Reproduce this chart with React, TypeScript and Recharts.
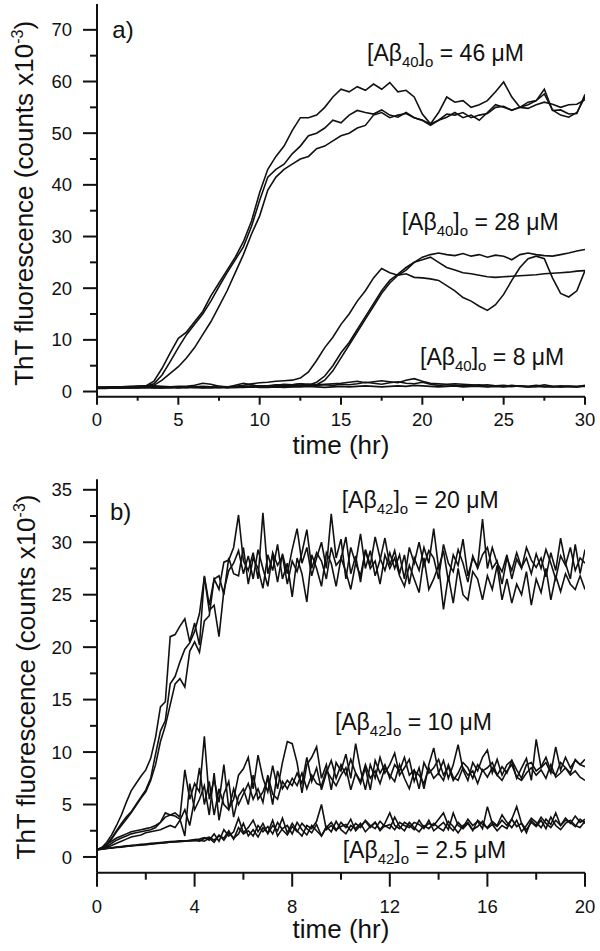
import React from 'react';
import { LineChart, Line, XAxis, YAxis, ReferenceDot } from 'recharts';

// ---------------- Panel a) : Aβ40, sampled every 0.5 hr (0 .. 30 hr) ----------------
const TIME_A = Array.from({ length: 61 }, (_, i) => i * 0.5);

const AB40_46_RUN1 = [0.8,0.8,0.9,0.9,1.0,1.0,1.1,2.0,4.5,7.5, 10.3,11.5,13.5,15.5,18.5,21.0,23.5,26.0,29.0,33.0, 38.5,43.0,45.5,47.5,50.5,53.0,53.0,53.5,55.0,57.0, 58.5,58.0,59.0,58.3,59.5,58.5,59.8,58.0,58.3,57.0, 53.7,51.8,54.0,57.0,56.0,56.3,55.0,55.5,56.3,58.0, 59.9,57.0,55.0,55.5,56.3,58.5,54.4,54.5,53.7,53.8, 57.5];
const AB40_46_RUN2 = [0.8,0.8,0.8,0.9,0.9,1.0,1.0,1.5,3.2,5.8, 8.5,11.0,13.0,15.0,17.5,20.3,23.0,25.5,28.0,32.0, 37.0,41.5,43.0,44.0,46.0,47.5,49.5,50.0,51.0,52.5, 52.0,53.5,54.4,54.0,53.7,54.5,53.5,53.1,54.0,53.0, 52.5,51.5,52.5,53.1,54.0,53.0,53.5,52.5,54.0,55.5, 55.0,54.5,55.0,54.8,55.5,56.0,55.6,55.0,55.5,55.6, 56.5];
const AB40_46_RUN3 = [0.8,0.8,0.8,0.8,0.9,0.9,1.0,1.2,2.2,3.5, 4.8,6.5,8.5,11.0,13.5,16.5,19.5,23.0,26.5,30.5, 34.0,39.0,41.5,43.0,44.0,45.0,45.5,47.0,47.5,48.5, 49.5,50.0,51.0,51.5,53.5,54.0,53.0,53.5,53.8,53.0, 52.5,51.8,52.5,53.7,53.5,54.0,53.0,53.5,53.8,55.0, 55.2,54.4,55.0,56.0,56.3,57.6,54.5,53.5,53.1,54.0, 57.0];

const AB40_28_RUN1 = [0.7,0.7,0.8,0.8,0.8,0.8,0.8,0.8,0.8,0.9, 0.8,0.8,0.9,1.0,0.9,0.8,0.9,1.0,1.2,1.5, 1.7,1.8,2.0,2.1,2.2,2.6,3.8,6.0,8.5,10.5, 13.0,15.0,17.5,19.5,22.0,23.8,23.0,22.5,22.8,22.1, 22.0,21.8,21.5,20.5,19.5,18.2,17.5,16.5,15.7,16.8, 18.8,21.5,24.0,25.7,26.2,25.7,22.0,19.0,18.3,19.5, 23.4];
const AB40_28_RUN2 = [0.7,0.7,0.7,0.8,0.8,0.8,0.8,0.9,0.8,0.8, 0.8,0.9,0.8,0.8,0.9,0.8,0.9,0.9,1.0,1.0, 1.1,1.0,1.1,1.2,1.3,1.5,1.2,1.8,3.0,5.0, 7.5,9.5,12.0,14.5,17.0,19.5,21.5,22.7,24.0,25.0, 25.5,26.0,25.0,24.0,23.5,23.0,22.8,22.5,22.2,22.1, 22.2,22.3,22.4,22.5,22.6,22.8,22.9,23.0,23.1,23.3, 23.4];
const AB40_28_RUN3 = [0.7,0.7,0.7,0.7,0.8,0.8,0.8,0.8,0.8,0.8, 0.9,0.8,0.8,0.9,0.9,1.0,0.9,0.9,0.9,1.0, 1.0,1.0,1.1,1.0,1.1,1.2,1.4,1.3,2.2,4.0, 6.5,9.0,11.5,14.0,16.5,19.0,21.0,22.5,23.5,25.0, 26.0,26.5,26.8,26.5,26.3,26.7,26.2,26.5,26.0,26.4, 26.2,25.5,26.5,26.8,26.5,26.3,26.2,26.5,26.8,27.2, 27.5];

const AB40_8_RUN1 = [0.7,0.8,0.8,0.9,0.8,1.0,1.0,1.1,1.0,0.9, 1.0,1.0,1.2,1.6,1.4,1.0,0.8,1.2,1.6,1.3, 1.0,1.1,1.3,1.2,1.0,1.1,1.2,1.3,1.4,1.5, 1.6,1.8,2.0,1.7,1.9,2.1,1.9,1.7,2.2,2.5, 2.0,1.6,1.5,1.4,1.5,1.4,1.3,1.2,1.3,1.1, 1.2,1.0,1.1,1.0,1.2,1.0,0.9,1.1,1.0,0.9, 1.1];
const AB40_8_RUN2 = [0.7,0.7,0.7,0.8,0.8,0.8,0.9,0.8,0.8,0.8, 0.9,0.8,0.9,0.8,0.7,0.8,0.9,0.8,0.9,1.0, 1.1,1.0,1.2,1.4,1.3,1.5,1.4,1.2,1.3,1.2, 1.4,1.3,1.5,1.8,1.6,1.4,1.7,1.9,1.6,1.5, 1.8,1.4,1.2,1.3,1.2,1.1,1.2,1.3,1.0,1.1, 1.0,1.2,1.0,0.9,1.0,1.3,1.0,0.9,1.0,0.9, 1.2];
const AB40_8_RUN3 = [0.6,0.6,0.7,0.7,0.7,0.7,0.8,0.7,0.7,0.8, 0.7,0.8,0.8,0.7,0.8,0.8,0.7,0.8,0.8,0.9, 0.8,0.8,0.9,0.8,0.9,0.9,1.0,0.9,0.8,0.9, 1.0,0.9,1.0,1.1,1.0,0.9,1.0,1.1,1.0,1.2, 1.1,1.0,0.9,1.0,1.1,0.9,1.0,1.0,0.9,1.0, 0.9,1.0,1.1,0.9,1.0,0.9,1.0,0.9,1.0,1.0, 1.0];

// ---------------- Panel b) : Aβ42, sampled every 0.2 hr (0 .. 20 hr) ----------------
const TIME_B = Array.from({ length: 101 }, (_, i) => (i * 2) / 10);

const AB42_20_RUN1 = [0.7,0.9,1.4,2.1,3.0,4.0,5.2,6.3,7.0,7.7, 8.3,9.4,11.4,14.3,14.8,21.0,21.2,22.0,22.7,20.5, 22.3,20.2,26.8,24.0,26.5,25.5,28.1,28.3,29.5,32.6, 28.2,27.3,29.0,26.5,32.8,27.0,28.8,26.2,28.9,27.0, 29.3,31.3,28.0,29.5,26.8,28.5,30.0,27.5,32.7,28.5, 30.3,26.5,29.5,28.0,30.8,27.5,29.2,26.8,28.3,30.4, 27.8,29.2,27.0,28.8,26.0,28.5,27.3,29.5,28.0,31.3, 27.5,29.2,26.3,28.8,27.8,30.3,26.8,28.5,27.7,32.2, 27.5,29.5,28.0,27.2,28.8,26.5,28.4,27.5,29.5,28.3, 27.6,28.5,26.7,29.0,27.3,30.4,28.0,26.5,29.8,27.0, 29.3];
const AB42_20_RUN2 = [0.7,0.8,1.2,1.8,2.5,3.2,3.8,4.3,5.0,5.7, 6.4,7.5,9.8,12.0,13.0,16.5,17.2,18.6,19.8,20.4, 21.5,23.2,26.7,23.5,24.0,21.0,25.4,27.3,28.0,29.2, 27.0,28.7,26.5,29.3,27.5,25.8,29.0,27.8,28.7,26.0, 28.2,27.2,29.0,31.2,27.5,29.0,28.2,26.5,29.5,27.8, 28.4,30.5,27.0,28.7,26.2,29.3,27.8,30.5,28.5,27.3, 29.0,27.5,28.8,26.5,29.5,28.0,30.0,27.8,29.2,28.5, 26.5,29.8,28.0,27.2,29.3,28.0,26.2,28.7,27.5,28.8, 29.5,27.5,28.2,26.0,28.5,27.3,29.0,27.6,28.5,27.0, 28.9,27.5,29.3,28.0,26.5,28.7,27.8,29.5,27.3,28.5, 28.0];
const AB42_20_RUN3 = [0.7,0.8,1.1,1.7,2.4,3.0,3.6,4.2,4.9,5.6, 6.2,7.3,8.8,11.0,12.5,14.5,16.5,17.0,16.2,19.6, 20.5,19.5,22.5,23.0,26.5,26.8,25.0,28.5,27.0,26.8, 29.5,26.0,28.5,27.5,25.6,28.8,27.3,29.8,26.5,28.0, 24.8,28.5,27.0,24.3,28.8,27.5,25.8,29.0,28.0,25.8, 28.5,27.2,25.5,28.0,26.8,29.2,27.5,28.2,26.0,28.8, 27.5,28.5,26.8,25.8,27.8,26.5,25.2,28.5,25.5,26.5, 27.8,23.6,26.8,24.2,27.5,25.0,24.5,27.2,26.5,24.5, 26.8,25.5,27.8,24.5,26.5,24.2,26.0,25.0,27.2,24.0, 26.5,25.2,27.5,24.5,26.8,25.3,27.0,26.0,25.5,26.8, 25.5];

const AB42_10_RUN1 = [0.7,0.9,1.2,1.5,1.8,2.0,2.2,2.4,2.5,2.6, 2.7,2.8,3.0,3.3,3.8,4.0,4.2,3.8,8.3,5.5, 7.0,6.2,11.5,5.5,7.4,5.2,8.8,4.6,5.5,7.8, 8.4,9.5,6.5,9.7,7.5,6.2,8.7,6.5,9.0,11.0, 10.8,9.0,6.1,8.8,9.5,10.5,7.5,8.8,6.4,9.0, 8.2,9.8,7.5,10.8,8.3,6.4,8.8,7.5,9.5,8.0, 8.8,9.9,7.8,8.5,9.3,7.2,8.5,6.5,8.8,10.4, 8.0,9.2,7.5,8.8,10.7,8.3,7.3,9.0,8.2,9.5, 10.2,8.0,9.3,7.8,8.8,9.2,7.5,8.5,9.4,7.3, 11.2,8.5,9.0,8.0,10.5,8.3,9.5,8.5,9.2,8.8, 9.3];
const AB42_10_RUN2 = [0.7,0.8,1.0,1.3,1.6,1.8,2.0,2.2,2.3,2.4, 2.5,2.6,2.8,3.3,4.2,4.0,3.9,3.6,2.0,7.0, 4.5,5.5,6.8,4.0,8.0,3.5,6.0,7.2,3.8,5.8, 6.5,5.0,7.8,5.5,6.2,7.5,5.0,8.2,6.5,7.3, 6.8,8.0,7.0,9.5,7.2,8.5,6.4,8.0,9.2,7.5, 8.8,7.8,9.3,8.0,7.0,8.5,6.4,9.2,8.0,8.8, 7.5,8.8,8.2,9.5,7.8,8.3,6.5,9.0,8.0,8.5, 9.3,7.8,8.6,7.3,8.0,9.0,8.5,7.5,8.8,8.2, 8.5,9.0,7.8,8.6,8.0,9.2,8.3,7.5,8.8,9.0, 8.2,8.6,9.5,8.2,7.8,9.0,8.5,8.0,9.3,8.8, 8.6];
const AB42_10_RUN3 = [0.7,0.8,0.9,1.1,1.3,1.5,1.7,1.9,2.0,2.1, 2.3,2.4,2.5,2.6,2.8,3.0,2.8,3.5,4.5,3.0, 5.5,8.5,5.0,7.2,4.0,6.5,5.0,4.5,6.5,5.0, 6.0,7.0,5.5,6.5,5.2,7.8,6.0,5.5,7.2,6.5, 7.5,6.8,8.0,6.5,7.8,7.0,6.8,8.3,7.5,6.8, 7.8,8.5,6.4,8.0,7.2,8.8,7.5,8.2,7.0,8.5, 7.8,7.2,8.8,7.5,6.5,8.2,7.8,7.0,8.5,7.5, 8.0,7.3,8.8,7.6,7.3,8.5,7.8,8.2,7.0,8.3, 7.6,8.5,7.8,7.3,8.2,8.8,7.6,7.3,8.0,8.5, 7.8,8.3,7.5,8.8,7.6,8.0,8.5,7.8,8.2,7.6, 7.3];

const AB42_25_RUN1 = [0.7,0.76,0.84,0.88,0.95,1.0,1.06,1.1,1.14,1.2, 1.24,1.3,1.32,1.38,1.42,1.46,1.5,1.55,1.52,1.6, 1.65,1.7,1.85,1.6,2.2,1.5,2.6,2.0,2.4,3.7, 2.3,2.8,3.5,2.4,3.2,2.2,3.0,2.5,3.7,2.3, 3.2,2.5,2.0,3.0,2.7,3.4,5.0,2.6,3.0,2.5, 3.3,2.8,3.6,2.5,3.0,3.4,2.8,3.3,2.6,3.2, 4.2,3.0,2.7,3.3,3.0,2.6,3.5,2.8,3.2,3.0, 3.6,4.2,3.0,2.5,3.3,2.8,3.6,3.0,3.4,2.7, 4.8,3.2,2.9,3.5,3.0,3.6,4.8,3.2,2.3,3.5, 3.0,3.8,3.2,2.8,3.5,3.0,3.7,3.2,3.9,3.3, 3.6];
const AB42_25_RUN2 = [0.7,0.75,0.82,0.86,0.92,0.97,1.02,1.08,1.12,1.16, 1.2,1.25,1.3,1.33,1.37,1.42,1.45,1.5,1.54,1.55, 1.6,1.5,1.75,1.9,1.6,2.0,1.8,2.5,1.7,2.8, 2.2,2.5,2.0,3.0,2.4,2.9,2.2,3.3,2.6,2.1, 2.9,2.4,3.2,2.7,2.3,3.1,2.0,2.8,3.3,2.6, 2.9,3.1,2.5,3.2,2.8,3.5,3.0,2.7,3.4,2.9, 3.1,2.6,3.3,3.0,2.8,3.3,3.1,2.7,3.5,2.5, 2.9,3.3,2.6,4.2,3.0,2.7,3.2,2.5,3.5,3.1, 2.8,3.4,3.0,4.0,3.3,2.8,3.5,2.4,3.0,3.7, 3.3,2.8,3.6,3.1,4.2,3.0,3.5,3.3,2.9,3.6, 3.2];
const AB42_25_RUN3 = [0.7,0.74,0.8,0.85,0.9,0.94,1.0,1.04,1.1,1.13, 1.18,1.22,1.27,1.3,1.35,1.4,1.42,1.46,1.5,1.53, 1.55,1.6,1.5,1.8,1.4,2.1,1.6,2.3,1.8,2.2, 3.2,2.0,2.6,1.9,2.8,2.3,3.5,2.0,2.7,3.0, 2.2,3.3,2.6,2.1,3.0,2.5,2.0,2.9,2.4,3.4, 2.6,2.2,3.0,2.7,3.2,2.4,2.9,3.3,2.5,3.0, 2.7,3.8,2.9,2.5,3.3,2.8,2.4,3.0,2.7,3.2, 2.8,2.5,3.4,2.9,2.3,3.0,3.3,2.6,2.9,3.4, 2.7,3.1,2.5,3.0,2.7,3.6,2.9,3.2,2.6,3.3, 2.9,3.5,2.7,3.8,3.0,2.6,3.2,3.5,3.0,2.8, 3.4];

// ---------------- Axis ticks ----------------
const TICKS_A_X = [0, 2.5, 5, 7.5, 10, 12.5, 15, 17.5, 20, 22.5, 25, 27.5, 30];
const TICKS_A_Y = [0, 5, 10, 15, 20, 25, 30, 35, 40, 45, 50, 55, 60, 65, 70];
const TICKS_B_X = [0, 2, 4, 6, 8, 10, 12, 14, 16, 18, 20];
const TICKS_B_Y = [0, 2.5, 5, 7.5, 10, 12.5, 15, 17.5, 20, 22.5, 25, 27.5, 30, 32.5, 35];

// ---------------- Build chart rows ----------------
const SERIES_A = [AB40_46_RUN1, AB40_46_RUN2, AB40_46_RUN3, AB40_28_RUN1, AB40_28_RUN2, AB40_28_RUN3, AB40_8_RUN1, AB40_8_RUN2, AB40_8_RUN3];
const SERIES_B = [AB42_20_RUN1, AB42_20_RUN2, AB42_20_RUN3, AB42_10_RUN1, AB42_10_RUN2, AB42_10_RUN3, AB42_25_RUN1, AB42_25_RUN2, AB42_25_RUN3];

const rowsA = TIME_A.map((t, i) => {
  const r: any = { t };
  SERIES_A.forEach((s, k) => { r['s' + k] = s[i]; });
  return r;
});
const rowsB = TIME_B.map((t, i) => {
  const r: any = { t };
  SERIES_B.forEach((s, k) => { r['s' + k] = s[i]; });
  return r;
});

// ---------------- Styling helpers ----------------
const FONT = '"Liberation Sans", Arial, Helvetica, sans-serif';
const INK = '#111';

const isMajor = (v: number, step: number) => Math.abs(v / step - Math.round(v / step)) < 1e-6;

function makeYTick(step: number, majorLen: number, minorLen: number) {
  return (props: any) => {
    const { x, y, payload } = props;
    const v = payload.value;
    const major = isMajor(v, step);
    return (
      <g>
        <line x1={x - (major ? majorLen : minorLen)} x2={x} y1={y} y2={y} stroke={INK} strokeWidth={2} />
        {major && (
          <text x={x - 25} y={y} dy={6.6} textAnchor="end" fontSize={18.5} fontFamily={FONT} fill={INK}>
            {v}
          </text>
        )}
      </g>
    );
  };
}

function makeXTick(step: number, majorLen: number, minorLen: number, labelDy: number) {
  return (props: any) => {
    const { x, y, payload } = props;
    const v = payload.value;
    const major = isMajor(v, step);
    return (
      <g>
        <line x1={x} x2={x} y1={y} y2={y + (major ? majorLen : minorLen)} stroke={INK} strokeWidth={2} />
        {major && (
          <text x={x} y={y + labelDy} textAnchor="middle" fontSize={18.5} fontFamily={FONT} fill={INK}>
            {v}
          </text>
        )}
      </g>
    );
  };
}

function makeYTitle(baselineX: number, shiftY: number) {
  return (props: any) => {
    const vb = props.viewBox || {};
    const cy = (vb.y || 0) + (vb.height || 0) / 2 + shiftY;
    return (
      <text x={baselineX} y={cy} transform={`rotate(-90 ${baselineX} ${cy})`} textAnchor="middle" fontSize={26} fontFamily={FONT} fill={INK} style={{ whiteSpace: 'pre' }}>
        ThT fluorescence (counts x10<tspan dy={-10} fontSize={16}>-3</tspan><tspan dy={10} fontSize={26}>)</tspan>
      </text>
    );
  };
}

function makeXTitle(baselineDy: number) {
  return (props: any) => {
    const vb = props.viewBox || {};
    const cx = (vb.x || 0) + (vb.width || 0) / 2;
    return (
      <text x={cx} y={(vb.y || 0) + baselineDy} textAnchor="middle" fontSize={26} fontFamily={FONT} fill={INK}>
        time (hr)
      </text>
    );
  };
}

function concLabel(sub: string, conc: string) {
  return (p: any) => (
    <text x={p.cx} y={p.cy} fontSize={23} fontFamily={FONT} fill={INK} style={{ whiteSpace: 'pre' }}>
      [Aβ<tspan dy={6} fontSize={15}>{sub}</tspan>
      <tspan dy={-6}>]</tspan>
      <tspan dy={6} fontSize={15}>o</tspan>
      <tspan dy={-6}>{` = ${conc} μM`}</tspan>
    </text>
  );
}

function panelLabel(txt: string) {
  return (p: any) => (
    <text x={p.cx} y={p.cy} fontSize={24} fontFamily={FONT} fill={INK}>
      {txt}
    </text>
  );
}

const AXIS_LINE = { stroke: INK, strokeWidth: 2 };

function renderLines(n: number) {
  return Array.from({ length: n }, (_, k) => (
    <Line key={k} type="linear" dataKey={'s' + k} stroke={INK} strokeWidth={1.6} dot={false} isAnimationActive={false} />
  ));
}

export default function App() {
  return (
    <div style={{ position: 'absolute', left: 0, top: 0, width: 600, height: 951, background: '#fff' }}>
      <div style={{ position: 'absolute', left: 0, top: 0 }}>
        <LineChart width={600} height={470} data={rowsA} margin={{ top: 4, right: 15, bottom: 23.3, left: 0 }}>
          <XAxis dataKey="t" type="number" domain={[0, 30]} ticks={TICKS_A_X} interval={0} allowDataOverflow
            tickSize={0} tickMargin={0} tickLine={false} axisLine={AXIS_LINE} height={50}
            tick={makeXTick(5, 8, 4, 29.5)} label={makeXTitle(57)} />
          <XAxis xAxisId="top" orientation="top" dataKey="t" type="number" domain={[0, 30]} height={0} tick={false} tickLine={false} axisLine={AXIS_LINE} />
          <YAxis type="number" domain={[-1, 75]} ticks={TICKS_A_Y} interval={0} allowDataOverflow
            tickSize={0} tickMargin={0} tickLine={false} axisLine={AXIS_LINE} width={97}
            tick={makeYTick(10, 14, 7)} label={makeYTitle(33, 3)} />
          <YAxis yAxisId="right" orientation="right" type="number" domain={[-1, 75]} width={0} tick={false} tickLine={false} axisLine={AXIS_LINE} />
          {renderLines(9)}
          <ReferenceDot x={0.94} y={68.45} r={0} ifOverflow="visible" shape={panelLabel('a)')} />
          <ReferenceDot x={16.6} y={64.0} r={0} ifOverflow="visible" shape={concLabel('40', '46')} />
          <ReferenceDot x={18.73} y={31.2} r={0} ifOverflow="visible" shape={concLabel('40', '28')} />
          <ReferenceDot x={19.86} y={5.07} r={0} ifOverflow="visible" shape={concLabel('40', '8')} />
        </LineChart>
      </div>
      <div style={{ position: 'absolute', left: 0, top: 470 }}>
        <LineChart width={600} height={481} data={rowsB} margin={{ top: 9.3, right: 15, bottom: 18.3, left: 0 }}>
          <XAxis dataKey="t" type="number" domain={[0, 20]} ticks={TICKS_B_X} interval={0} allowDataOverflow
            tickSize={0} tickMargin={0} tickLine={false} axisLine={AXIS_LINE} height={60}
            tick={makeXTick(4, 14, 7, 40)} label={makeXTitle(65)} />
          <XAxis xAxisId="top" orientation="top" dataKey="t" type="number" domain={[0, 20]} height={0} tick={false} tickLine={false} axisLine={AXIS_LINE} />
          <YAxis type="number" domain={[-1.5, 36]} ticks={TICKS_B_Y} interval={0} allowDataOverflow
            tickSize={0} tickMargin={0} tickLine={false} axisLine={AXIS_LINE} width={97}
            tick={makeYTick(5, 14, 7)} label={makeYTitle(35, 1)} />
          <YAxis yAxisId="right" orientation="right" type="number" domain={[-1.5, 36]} width={0} tick={false} tickLine={false} axisLine={AXIS_LINE} />
          {renderLines(9)}
          <ReferenceDot x={0.53} y={32.1} r={0} ifOverflow="visible" shape={panelLabel('b)')} />
          <ReferenceDot x={10.03} y={33.3} r={0} ifOverflow="visible" shape={concLabel('42', '20')} />
          <ReferenceDot x={9.75} y={12.1} r={0} ifOverflow="visible" shape={concLabel('42', '10')} />
          <ReferenceDot x={10.07} y={-0.1} r={0} ifOverflow="visible" shape={concLabel('42', '2.5')} />
        </LineChart>
      </div>
    </div>
  );
}
